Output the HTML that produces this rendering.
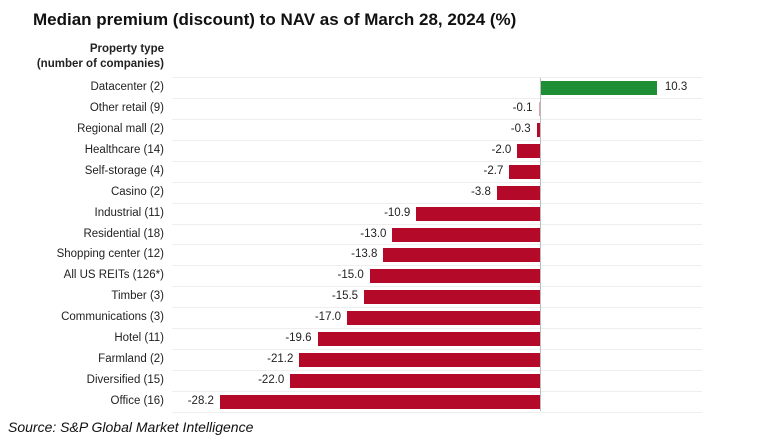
<!DOCTYPE html><html><head><style>
body{margin:0;width:770px;height:442px;background:#fff;font-family:"Liberation Sans",sans-serif;position:relative;overflow:hidden}
.a{position:absolute;white-space:nowrap}
.l{right:606px;font-size:11.5px;color:#222;text-align:right}
.v{font-size:11.5px;color:#222}
.b{position:absolute;height:14px}
.g{position:absolute;left:172px;width:530px;height:1px;background:#eee}
</style></head><body>
<div class="a" style="left:33px;top:10px;font-size:17px;font-weight:bold;color:#111">Median premium (discount) to NAV as of March 28, 2024 (%)</div>
<div class="a" style="right:606px;top:42px;font-size:11.5px;font-weight:bold;color:#222;text-align:right;line-height:15px">Property type<br>(number of companies)</div>
<div id="c"></div>
<div class="a" style="left:540px;top:78px;width:1px;height:333px;background:#bbb"></div>
<div class="a" style="left:8px;top:419px;font-size:14px;font-style:italic;color:#111">Source: S&amp;P Global Market Intelligence</div>
<script>
var d=[["Datacenter (2)",10.3],["Other retail (9)",-0.1],["Regional mall (2)",-0.3],["Healthcare (14)",-2.0],["Self-storage (4)",-2.7],["Casino (2)",-3.8],["Industrial (11)",-10.9],["Residential (18)",-13.0],["Shopping center (12)",-13.8],["All US REITs (126*)",-15.0],["Timber (3)",-15.5],["Communications (3)",-17.0],["Hotel (11)",-19.6],["Farmland (2)",-21.2],["Diversified (15)",-22.0],["Office (16)",-28.2]];
var h="",z=540,s=11.35,step=20.93;
d.forEach(function(r,i){var cy=88+i*step;var v=r[1];var w=Math.max(Math.abs(v)*s,1.5);
h+='<div class="g" style="top:'+Math.round(cy-11)+'px"></div>';
h+='<div class="a l" style="top:'+(cy-7)+'px">'+r[0]+'</div>';
if(v>0){h+='<div class="b" style="left:'+z+'px;top:'+(cy-7)+'px;width:'+w+'px;background:#1f8f35"></div>';
h+='<div class="a v" style="left:'+(z+w+8)+'px;top:'+(cy-7)+'px">'+v.toFixed(1)+'</div>';}
else{h+='<div class="b" style="left:'+(z-w)+'px;top:'+(cy-7)+'px;width:'+w+'px;background:'+(v>-0.2?'#e3a0a8':'#b5092a')+'"></div>';
h+='<div class="a v" style="right:'+(770-(z-w)+6)+'px;top:'+(cy-7)+'px">'+v.toFixed(1)+'</div>';}
});
h+='<div class="g" style="top:'+Math.round(88+16*step-11)+'px"></div>';
document.getElementById("c").innerHTML=h;
</script>
</body></html>
